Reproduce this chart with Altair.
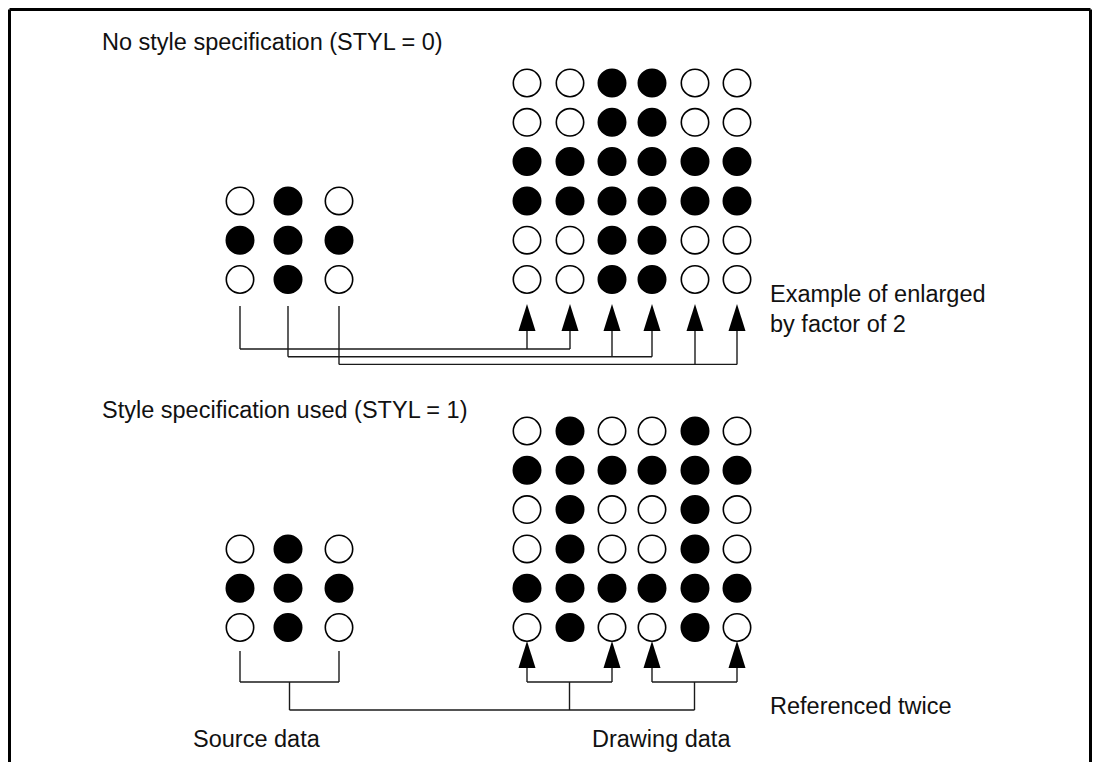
import altair as alt
import pandas as pd

# ---------------- data ----------------
# dot patterns: 1 = filled dot, 0 = empty dot (rows top to bottom)
top_source = ["010", "111", "010"]
top_drawn = ["001100", "001100", "111111", "111111", "001100", "001100"]
bottom_source = ["010", "111", "010"]
bottom_drawn = ["010010", "111111", "010010", "010010", "111111", "010010"]

# source column j -> drawn columns it feeds (enlarged by factor of 2)
top_links = [[0, 1], [2, 3], [4, 5]]
# style referenced twice: drawn column pairs fed by the whole source block
bottom_groups = [[0, 2], [3, 5]]

section_titles = ["No style specification (STYL = 0)", "Style specification used (STYL = 1)"]
notes_top = ["Example of enlarged", "by factor of 2"]
note_bottom = "Referenced twice"
captions = ["Source data", "Drawing data"]

# ---------------- layout (pixels) ----------------
W, H = 1084, 754
FONT = "Liberation Sans"
FS = 23.5
src_cols = [240, 288, 339]
drawn_cols = [527, 570, 612, 652, 695, 737]
top_row0, bot_row0, row_step = 83, 431, 39.3

dots = []
def add_grid(pattern, cols, row0, row_offset):
    for r, line in enumerate(pattern):
        for c, v in enumerate(line):
            dots.append({"x": cols[c], "y": row0 + (r + row_offset) * row_step,
                         "fill": "black" if v == "1" else "white"})

add_grid(top_drawn, drawn_cols, top_row0, 0)
add_grid(top_source, src_cols, top_row0, 3)
add_grid(bottom_drawn, drawn_cols, bot_row0, 0)
add_grid(bottom_source, src_cols, bot_row0, 3)
dots_df = pd.DataFrame(dots)

segs = []
def seg(x, y, x2, y2):
    segs.append({"x": x, "y": y, "x2": x2, "y2": y2})

# top connectors
levels = [349, 356.7, 364.4]
for j, targets in enumerate(top_links):
    sx, ly = src_cols[j], levels[j]
    seg(sx, 306, sx, ly)
    seg(sx, ly, drawn_cols[targets[-1]], ly)
    for k in targets:
        seg(drawn_cols[k], ly, drawn_cols[k], 331)
top_arrows = [{"x": drawn_cols[k], "y": 317.5} for t in top_links for k in t]

# bottom connectors
bx1, bx2 = src_cols[0], src_cols[-1]
seg(bx1, 651, bx1, 682)
seg(bx2, 651, bx2, 682)
seg(bx1, 682, bx2, 682)
smid = (bx1 + bx2) / 2
seg(smid, 682, smid, 710)
mids = []
for g in bottom_groups:
    a, b = drawn_cols[g[0]], drawn_cols[g[1]]
    seg(a, 668, a, 682)
    seg(b, 668, b, 682)
    seg(a, 682, b, 682)
    m = (a + b) / 2
    mids.append(m)
    seg(m, 682, m, 710)
seg(smid, 710, mids[-1], 710)
bottom_arrows = [{"x": drawn_cols[k], "y": 654.5} for g in bottom_groups for k in g]

segs_df = pd.DataFrame(segs)
arrows_df = pd.DataFrame(top_arrows + bottom_arrows)

frame_df = pd.DataFrame([
    {"x": 9.5, "y": 9.5, "x2": 1090.5, "y2": 9.5},
    {"x": 9.5, "y": 9.5, "x2": 9.5, "y2": 762},
    {"x": 1090.5, "y": 9.5, "x2": 1090.5, "y2": 762},
])

texts_df = pd.DataFrame([
    {"t": section_titles[0], "x": 102, "y": 50},
    {"t": section_titles[1], "x": 102, "y": 418},
    {"t": notes_top[0], "x": 770, "y": 302},
    {"t": notes_top[1], "x": 770, "y": 332},
    {"t": note_bottom, "x": 770, "y": 714},
    {"t": captions[0], "x": 193, "y": 747},
    {"t": captions[1], "x": 592, "y": 747},
])

# ---------------- chart ----------------
xs = alt.Scale(domain=[8, 8 + W], nice=False, zero=False)
ys = alt.Scale(domain=[8, 8 + H], reverse=True, nice=False, zero=False)
X = alt.X("x:Q", scale=xs, axis=None)
Y = alt.Y("y:Q", scale=ys, axis=None)

frame = alt.Chart(frame_df).mark_rule(color="black", strokeWidth=3).encode(
    x=X, y=Y, x2="x2:Q", y2="y2:Q")

lines = alt.Chart(segs_df).mark_rule(color="#1a1a1a", strokeWidth=1.4).encode(
    x=X, y=Y, x2="x2:Q", y2="y2:Q")

arrows = alt.Chart(arrows_df).mark_point(
    shape="M0,-1L0.63,1L-0.63,1Z", size=729, filled=True, color="black",
    opacity=1, strokeWidth=0).encode(x=X, y=Y)

circles = alt.Chart(dots_df).mark_point(
    shape="circle", size=751, filled=True, stroke="black", strokeWidth=1.6,
    opacity=1).encode(x=X, y=Y, fill=alt.Fill("fill:N", scale=None))

texts = alt.Chart(texts_df).mark_text(
    align="left", baseline="alphabetic", font=FONT, fontSize=FS, color="#111111").encode(
    x=X, y=Y, text="t:N")

chart = alt.layer(frame, lines, arrows, circles, texts).properties(
    width=W, height=H, padding=0,
    autosize=alt.AutoSizeParams(type="none"),
    background="white",
).configure_view(strokeWidth=0)

chart.save("out.html", embed_options={"renderer": "svg", "actions": False})
